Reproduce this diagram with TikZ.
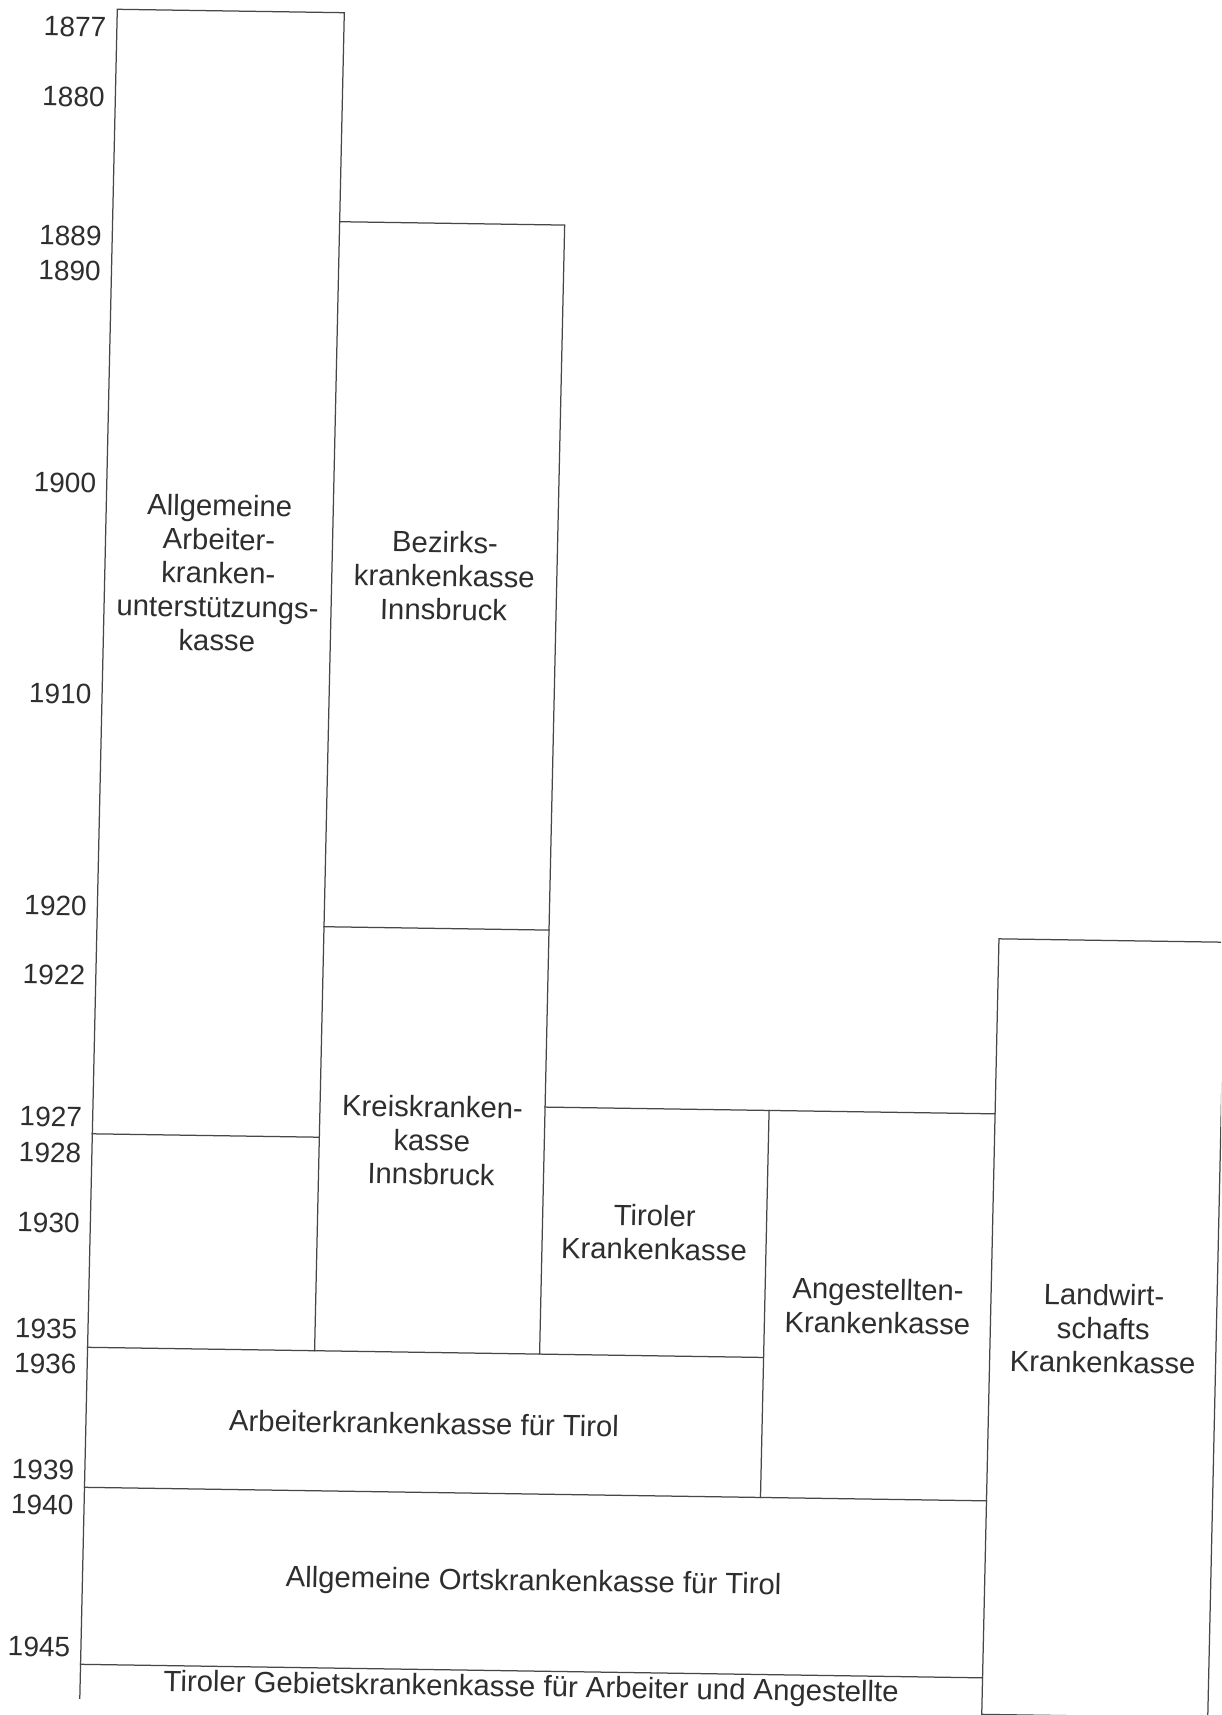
\documentclass[tikz,border=0pt]{standalone}
\usepackage{fontspec}
\setmainfont{Liberation Sans}
\tikzset{
  chartline/.style={line width=1.25pt, draw=black!72, line cap=rect},
  yearlbl/.style={anchor=east, inner sep=0pt, text=black!82, font=\fontsize{28}{31}\selectfont},
  boxlbl/.style={align=center, inner sep=0pt, text=black!82, font=\fontsize{29.3}{33.7}\selectfont},
}
\begin{document}
\begin{tikzpicture}
\useasboundingbox (0,0) rectangle (1221pt,-1715pt);
\clip (0,0) rectangle (1221pt,-1715pt);
\fill[white] (0,0) rectangle (1221pt,-1715pt);
\begin{scope}[x=1pt,y=-1pt,cm={1,-0.015,0.0222,1,(117.3pt,-9.3pt)},every node/.append style={transform shape}]
  % frame lines
  \draw[chartline] (0,1689) -- (0,0) -- (227,0) -- (227,1338);
  \draw[chartline] (227,209) -- (452,209) -- (452,1338);
  \draw[chartline] (227,914) -- (452,914);
  \draw[chartline] (0,1124.5) -- (227,1124.5);
  \draw[chartline] (452,1091) -- (902,1091);
  \draw[chartline] (676,1091) -- (676,1478);
  \draw[chartline] (0,1338) -- (676,1338);
  \draw[chartline] (0,1478) -- (902,1478);
  \draw[chartline] (0,1655) -- (902,1655);
  \draw[chartline] (902,916) rectangle (1128,1691.5);
  % year labels
  \node[yearlbl] (y1877) at (-10.5,18) {1877};
  \node[yearlbl] (y1880) at (-10.5,88) {1880};
  \node[yearlbl] (y1889) at (-10.5,227) {1889};
  \node[yearlbl] (y1890) at (-10.5,262) {1890};
  \node[yearlbl] (y1900) at (-10.5,474) {1900};
  \node[yearlbl] (y1910) at (-10.5,685) {1910};
  \node[yearlbl] (y1920) at (-10.5,897) {1920};
  \node[yearlbl] (y1922) at (-10.5,966) {1922};
  \node[yearlbl] (y1927) at (-10.5,1108) {1927};
  \node[yearlbl] (y1928) at (-10.5,1144) {1928};
  \node[yearlbl] (y1930) at (-10.5,1214) {1930};
  \node[yearlbl] (y1935) at (-10.5,1320) {1935};
  \node[yearlbl] (y1936) at (-10.5,1355) {1936};
  \node[yearlbl] (y1939) at (-10.5,1461) {1939};
  \node[yearlbl] (y1940) at (-10.5,1496) {1940};
  \node[yearlbl] (y1945) at (-10.5,1638) {1945};
  % box labels
  \node[boxlbl] (aaku) at (113.5,562) {Allgemeine\\Arbeiter-\\kranken-\\unterstützungs-\\kasse};
  \node[boxlbl] (bki) at (339.5,561.5) {Bezirks-\\krankenkasse\\Innsbruck};
  \node[boxlbl] (kki) at (339.5,1126) {Kreiskranken-\\kasse\\Innsbruck};
  \node[boxlbl] (tkk) at (564,1214.5) {Tiroler\\Krankenkasse};
  \node[boxlbl] (akk) at (789,1285) {Angestellten-\\Krankenkasse};
  \node[boxlbl] (lkk) at (1015,1304) {Landwirt-\\schafts\\Krankenkasse};
  \node[boxlbl] (akt) at (338,1409) {Arbeiterkrankenkasse für Tirol};
  \node[boxlbl] (aokt) at (451,1567) {Allgemeine Ortskrankenkasse für Tirol};
  \node[boxlbl] (tgk) at (451,1673) {Tiroler Gebietskrankenkasse für Arbeiter und Angestellte};
\end{scope}
\end{tikzpicture}
\end{document}
